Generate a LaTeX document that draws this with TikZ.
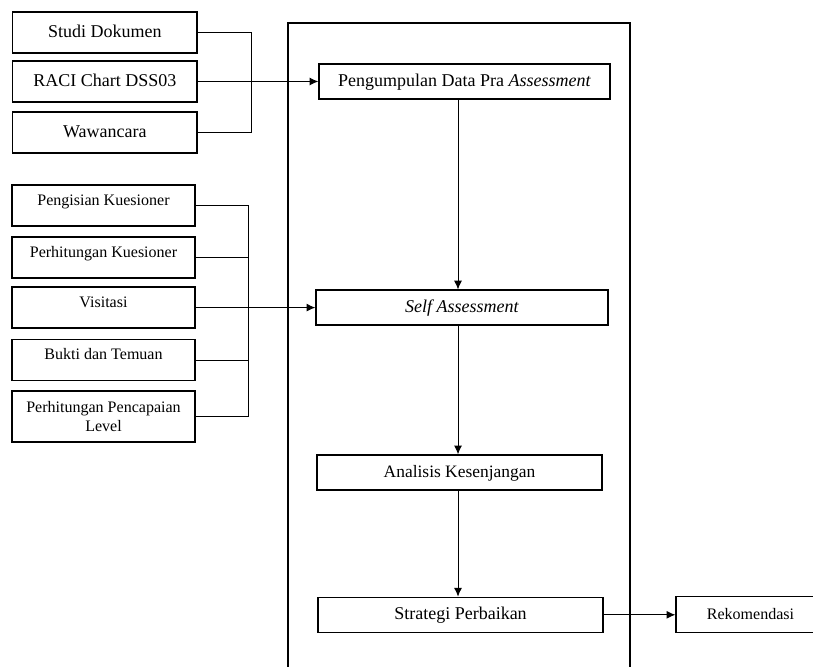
\documentclass[tikz,border=0pt]{standalone}
\usepackage{fontspec}
\setmainfont{Liberation Serif}
\usetikzlibrary{arrows.meta}
\begin{document}
\begin{tikzpicture}[>={Latex[length=2.2mm,width=2mm]},line width=0.7pt,
  box/.style={draw,line width=0.9pt,inner sep=0pt,align=center},
  big/.style={font=\fontsize{12.8}{15}\selectfont},
  small/.style={font=\fontsize{11.4}{14.2}\selectfont},
  level/.style={text height=0.7em,text depth=0pt},
  srcbox/.style={box,big,level,minimum width=4.61cm,minimum height=1.025cm},
  qbox/.style={box,small,minimum width=4.575cm,minimum height=1.025cm},
  raised/.style={text height=0.3cm,text depth=0.3cm},
  stepbox/.style={box,big,level,minimum height=0.875cm}]
\useasboundingbox (0,0) rectangle (20.325,16.65);
\draw[line width=0.9pt] (7.2,-0.2) -- (7.2,16.075) -- (15.75,16.075) -- (15.75,-0.2);

\node[srcbox] (studi) at (2.62,15.8375) {Studi Dokumen};
\node[srcbox] (raci) at (2.62,14.6125) {RACI Chart DSS03};
\node[srcbox] (wawan) at (2.62,13.3375) {Wawancara};
\coordinate (bus1) at (6.275,0);

\node[qbox,raised] (isi) at (2.5875,11.5125) {Pengisian Kuesioner};
\node[qbox,raised] (hitung) at (2.5875,10.2125) {Perhitungan Kuesioner};
\node[qbox,raised] (visitasi) at (2.5875,8.96) {Visitasi};
\node[qbox,raised] (bukti) at (2.5875,7.65) {Bukti dan Temuan};
\node[qbox,minimum height=1.275cm] (lvl) at (2.5875,6.2375) {Perhitungan Pencapaian\\Level};
\coordinate (bus2) at (6.2,0);

\node[stepbox,minimum width=7.275cm] (pra) at (11.6125,14.6125) {Pengumpulan Data Pra \textit{Assessment}};
\node[stepbox,minimum width=7.3cm] (self) at (11.55,8.96) {\textit{Self Assessment}};
\node[stepbox,font=\fontsize{12.4}{15}\selectfont,minimum width=7.125cm] (gap) at (11.4875,4.8375) {Analisis Kesenjangan};
\node[stepbox,minimum width=7.125cm] (strategi) at (11.5125,1.28) {Strategi Perbaikan};
\node[box,small,level,minimum width=3.725cm,minimum height=0.9cm] (rekom) at (18.7625,1.28) {Rekomendasi};
\coordinate (stem) at (11.45,0);

\draw (studi.east) -| (bus1 |- wawan.east) -- (wawan.east);
\draw[->] (raci) -- (pra);

\draw (isi.east) -| (bus2 |- lvl.east) -- (lvl.east);
\foreach \n in {hitung,bukti}
  \draw (\n.east) -- (bus2 |- \n.east);
\draw[->] (visitasi) -- (self);

\draw[->] (pra.south -| stem) -- (self.north -| stem);
\draw[->] (self.south -| stem) -- (gap.north -| stem);
\draw[->] (gap.south -| stem) -- (strategi.north -| stem);
\draw[->] (strategi) -- (rekom);
\end{tikzpicture}
\end{document}
